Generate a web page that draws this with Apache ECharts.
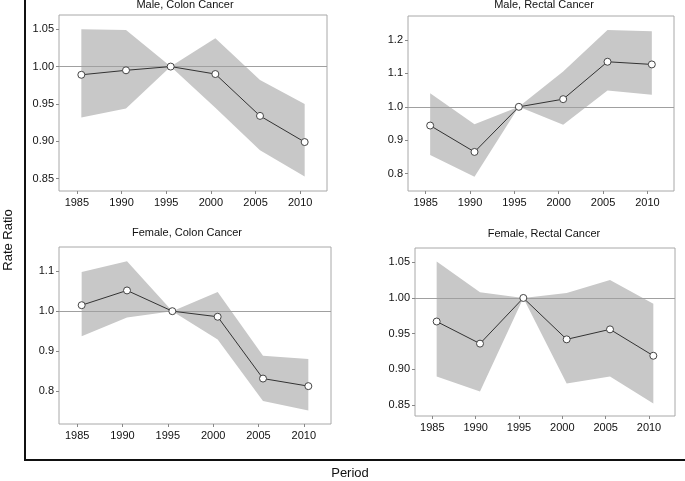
<!DOCTYPE html>
<html>
<head>
<meta charset="utf-8">
<script src="https://cdn.jsdelivr.net/npm/echarts@6/dist/echarts.min.js"></script>
<style>
html,body{margin:0;padding:0;background:#fff;}
#chart{width:685px;height:481px;}
</style>
</head>
<body>
<div id="chart"></div>
<script>
// ---- data ----
var periods = [1985.5, 1990.5, 1995.5, 2000.5, 2005.5, 2010.5];
var periodTicks = [1985, 1990, 1995, 2000, 2005, 2010];

var panelTitles = ["Male, Colon Cancer", "Male, Rectal Cancer", "Female, Colon Cancer", "Female, Rectal Cancer"];

var maleColonRR    = [0.989, 0.995, 1.000, 0.990, 0.934, 0.899];
var maleColonLow   = [0.932, 0.944, 1.000, 0.945, 0.888, 0.853];
var maleColonHigh  = [1.050, 1.049, 1.000, 1.038, 0.982, 0.950];

var maleRectalRR   = [0.944, 0.865, 1.000, 1.023, 1.135, 1.127];
var maleRectalLow  = [0.856, 0.791, 1.000, 0.946, 1.049, 1.036];
var maleRectalHigh = [1.041, 0.948, 1.000, 1.106, 1.230, 1.226];

var femColonRR     = [1.015, 1.052, 1.000, 0.986, 0.831, 0.812];
var femColonLow    = [0.937, 0.984, 1.000, 0.929, 0.775, 0.751];
var femColonHigh   = [1.098, 1.125, 1.000, 1.048, 0.888, 0.880];

var femRectalRR    = [0.967, 0.936, 1.000, 0.942, 0.956, 0.919];
var femRectalLow   = [0.890, 0.869, 1.000, 0.880, 0.890, 0.852];
var femRectalHigh  = [1.051, 1.008, 1.000, 1.007, 1.025, 0.992];

var yTicks1 = [0.85, 0.90, 0.95, 1.00, 1.05];
var yTicks2 = [0.8, 0.9, 1.0, 1.1, 1.2];
var yTicks3 = [0.8, 0.9, 1.0, 1.1];
var yTicks4 = [0.85, 0.90, 0.95, 1.00, 1.05];

var referenceValue = 1.0;

// ---- layout ----
var panels = [
  {rr: maleColonRR, lo: maleColonLow, hi: maleColonHigh, ticks: yTicks1, dec: 2,
   grid: {left: 59, top: 15, width: 268, height: 176}, ymin: 0.8335, ymax: 1.069, title: [185, 5]},
  {rr: maleRectalRR, lo: maleRectalLow, hi: maleRectalHigh, ticks: yTicks2, dec: 1,
   grid: {left: 408, top: 16, width: 266, height: 175}, ymin: 0.748, ymax: 1.272, title: [544, 5]},
  {rr: femColonRR, lo: femColonLow, hi: femColonHigh, ticks: yTicks3, dec: 1,
   grid: {left: 59, top: 247, width: 272, height: 177}, ymin: 0.717, ymax: 1.161, title: [187, 233]},
  {rr: femRectalRR, lo: femRectalLow, hi: femRectalHigh, ticks: yTicks4, dec: 2,
   grid: {left: 415, top: 248, width: 260, height: 168}, ymin: 0.8346, ymax: 1.070, title: [544, 234]}
];

var FONT = '"Liberation Sans", Arial, sans-serif';
var grids = [], xAxes = [], yAxes = [], series = [], graphics = [];

function bandRenderer(params, api) {
  if (params.dataIndexInside !== 0) return null;
  var n = params.dataInsideLength;
  var upper = [], lower = [];
  for (var k = 0; k < n; k++) {
    var x = api.value(0, k);
    upper.push(api.coord([x, api.value(2, k)]));
    lower.push(api.coord([x, api.value(1, k)]));
  }
  var pts = upper.concat(lower.reverse());
  return {
    type: 'polygon',
    shape: {points: pts},
    style: {fill: '#c8c8c8', stroke: null}
  };
}

panels.forEach(function (p, i) {
  grids.push(Object.assign({show: true, borderColor: '#a8a8a8', borderWidth: 1, backgroundColor: 'transparent'}, p.grid));
  xAxes.push({
    type: 'value', gridIndex: i, min: 1983, max: 2013,
    axisLine: {show: false},
    splitLine: {show: false},
    axisTick: {show: true, length: 3, lineStyle: {color: '#888'}, customValues: periodTicks},
    axisLabel: {show: true, customValues: periodTicks, margin: 6, color: '#111', fontSize: 11, fontFamily: FONT,
      formatter: function (v) { return String(v); }}
  });
  yAxes.push({
    type: 'value', gridIndex: i, min: p.ymin, max: p.ymax,
    axisLine: {show: false},
    splitLine: {show: false},
    axisTick: {show: true, length: 3, lineStyle: {color: '#888'}, customValues: p.ticks},
    axisLabel: {show: true, customValues: p.ticks, margin: 5, color: '#111', fontSize: 11, fontFamily: FONT,
      formatter: (function (d) { return function (v) { return v.toFixed(d); }; })(p.dec)}
  });
  series.push({
    type: 'custom', xAxisIndex: i, yAxisIndex: i,
    data: periods.map(function (x, k) { return [x, p.lo[k], p.hi[k]]; }),
    renderItem: bandRenderer, silent: true, clip: true, z: 1,
    encode: {x: 0, y: [1, 2]}
  });
  series.push({
    type: 'line', xAxisIndex: i, yAxisIndex: i,
    data: periods.map(function (x, k) { return [x, p.rr[k]]; }),
    symbol: 'circle', symbolSize: 7,
    itemStyle: {color: '#ffffff', borderColor: '#444', borderWidth: 1},
    lineStyle: {color: '#333', width: 1},
    z: 3,
    markLine: {
      silent: true, symbol: 'none', label: {show: false},
      lineStyle: {color: '#a0a0a0', width: 1, type: 'solid'},
      data: [{yAxis: referenceValue}],
      z: 2
    }
  });
  graphics.push({
    type: 'text', x: p.title[0], y: p.title[1],
    style: {text: panelTitles[i], fill: '#111', font: '11px ' + FONT, textAlign: 'center', textVerticalAlign: 'middle'}
  });
});

// outer frame (L-shaped) and axis titles
graphics.push({type: 'line', shape: {x1: 25, y1: 0, x2: 25, y2: 460}, style: {stroke: '#111', lineWidth: 2}});
graphics.push({type: 'line', shape: {x1: 24, y1: 460, x2: 685, y2: 460}, style: {stroke: '#111', lineWidth: 2}});
graphics.push({
  type: 'text', x: 8, y: 240, rotation: Math.PI / 2,
  style: {text: 'Rate Ratio', fill: '#111', font: '13px ' + FONT, textAlign: 'center', textVerticalAlign: 'middle'}
});
graphics.push({
  type: 'text', x: 350, y: 473,
  style: {text: 'Period', fill: '#111', font: '13px ' + FONT, textAlign: 'center', textVerticalAlign: 'middle'}
});

var chart = echarts.init(document.getElementById('chart'), null, {renderer: 'canvas'});
chart.setOption({
  animation: false,
  backgroundColor: '#fff',
  grid: grids,
  xAxis: xAxes,
  yAxis: yAxes,
  series: series,
  graphic: graphics
});
</script>
</body>
</html>
